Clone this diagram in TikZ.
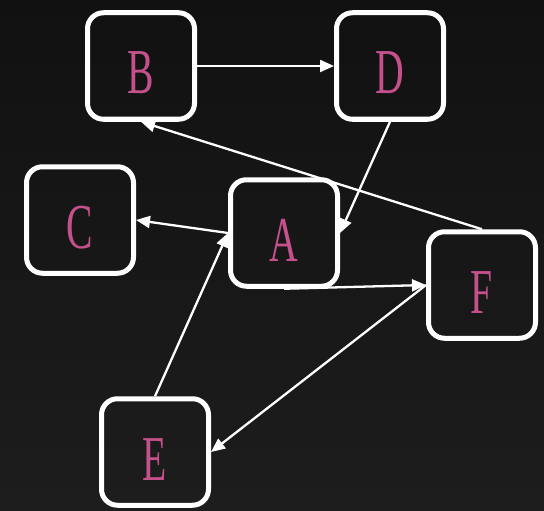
\documentclass[tikz,border=0pt]{standalone}
\usepackage{fontspec}
\usepackage{graphicx}
\newfontfamily\lblfont{Liberation Serif}
\newcommand\lblx[1]{\scalebox{0.62}[1]{#1}}
\usetikzlibrary{arrows.meta}
\definecolor{lblpink}{HTML}{C4508C}
\definecolor{bgtop}{HTML}{111111}
\definecolor{bgbot}{HTML}{1D1D1D}
\begin{document}
\begin{tikzpicture}[x=1pt,y=-1pt,
  box/.style={draw=white, line width=5pt, rounded corners=16pt,
    minimum width=107pt, minimum height=106.5pt, inner sep=0pt,
    font=\fontsize{64}{64}\lblfont, text=lblpink,
    text height=56pt, text depth=0pt},
  edge/.style={draw=white, line width=2.3pt, -{Triangle[length=14pt,width=12pt]}}]
\shade[top color=bgtop, bottom color=bgbot] (0,0) rectangle (544,511);
\useasboundingbox (0,0) rectangle (544,511);
\node[box] (B) at (141,66) {\lblx{B}};
\node[box] (D) at (390,66) {\lblx{D}};
\node[box] (C) at (80,220) {\lblx{C}};
\node[box] (A) at (284,233) {\lblx{A}};
\node[box] (F) at (482,285) {\lblx{F}};
\node[box] (E) at (155,452) {\lblx{E}};
\draw[edge] (B.east) -- (D.west);
\draw[edge] (D.south) -- (A.east);
\draw[edge] (F.north) -- (B.south);
\draw[edge] (A.west) -- (C.east);
\draw[edge] (A.south) -- (F.west);
\draw[edge] (F.west) -- (E.east);
\draw[edge] (E.north) -- (A.west);
\end{tikzpicture}
\end{document}
